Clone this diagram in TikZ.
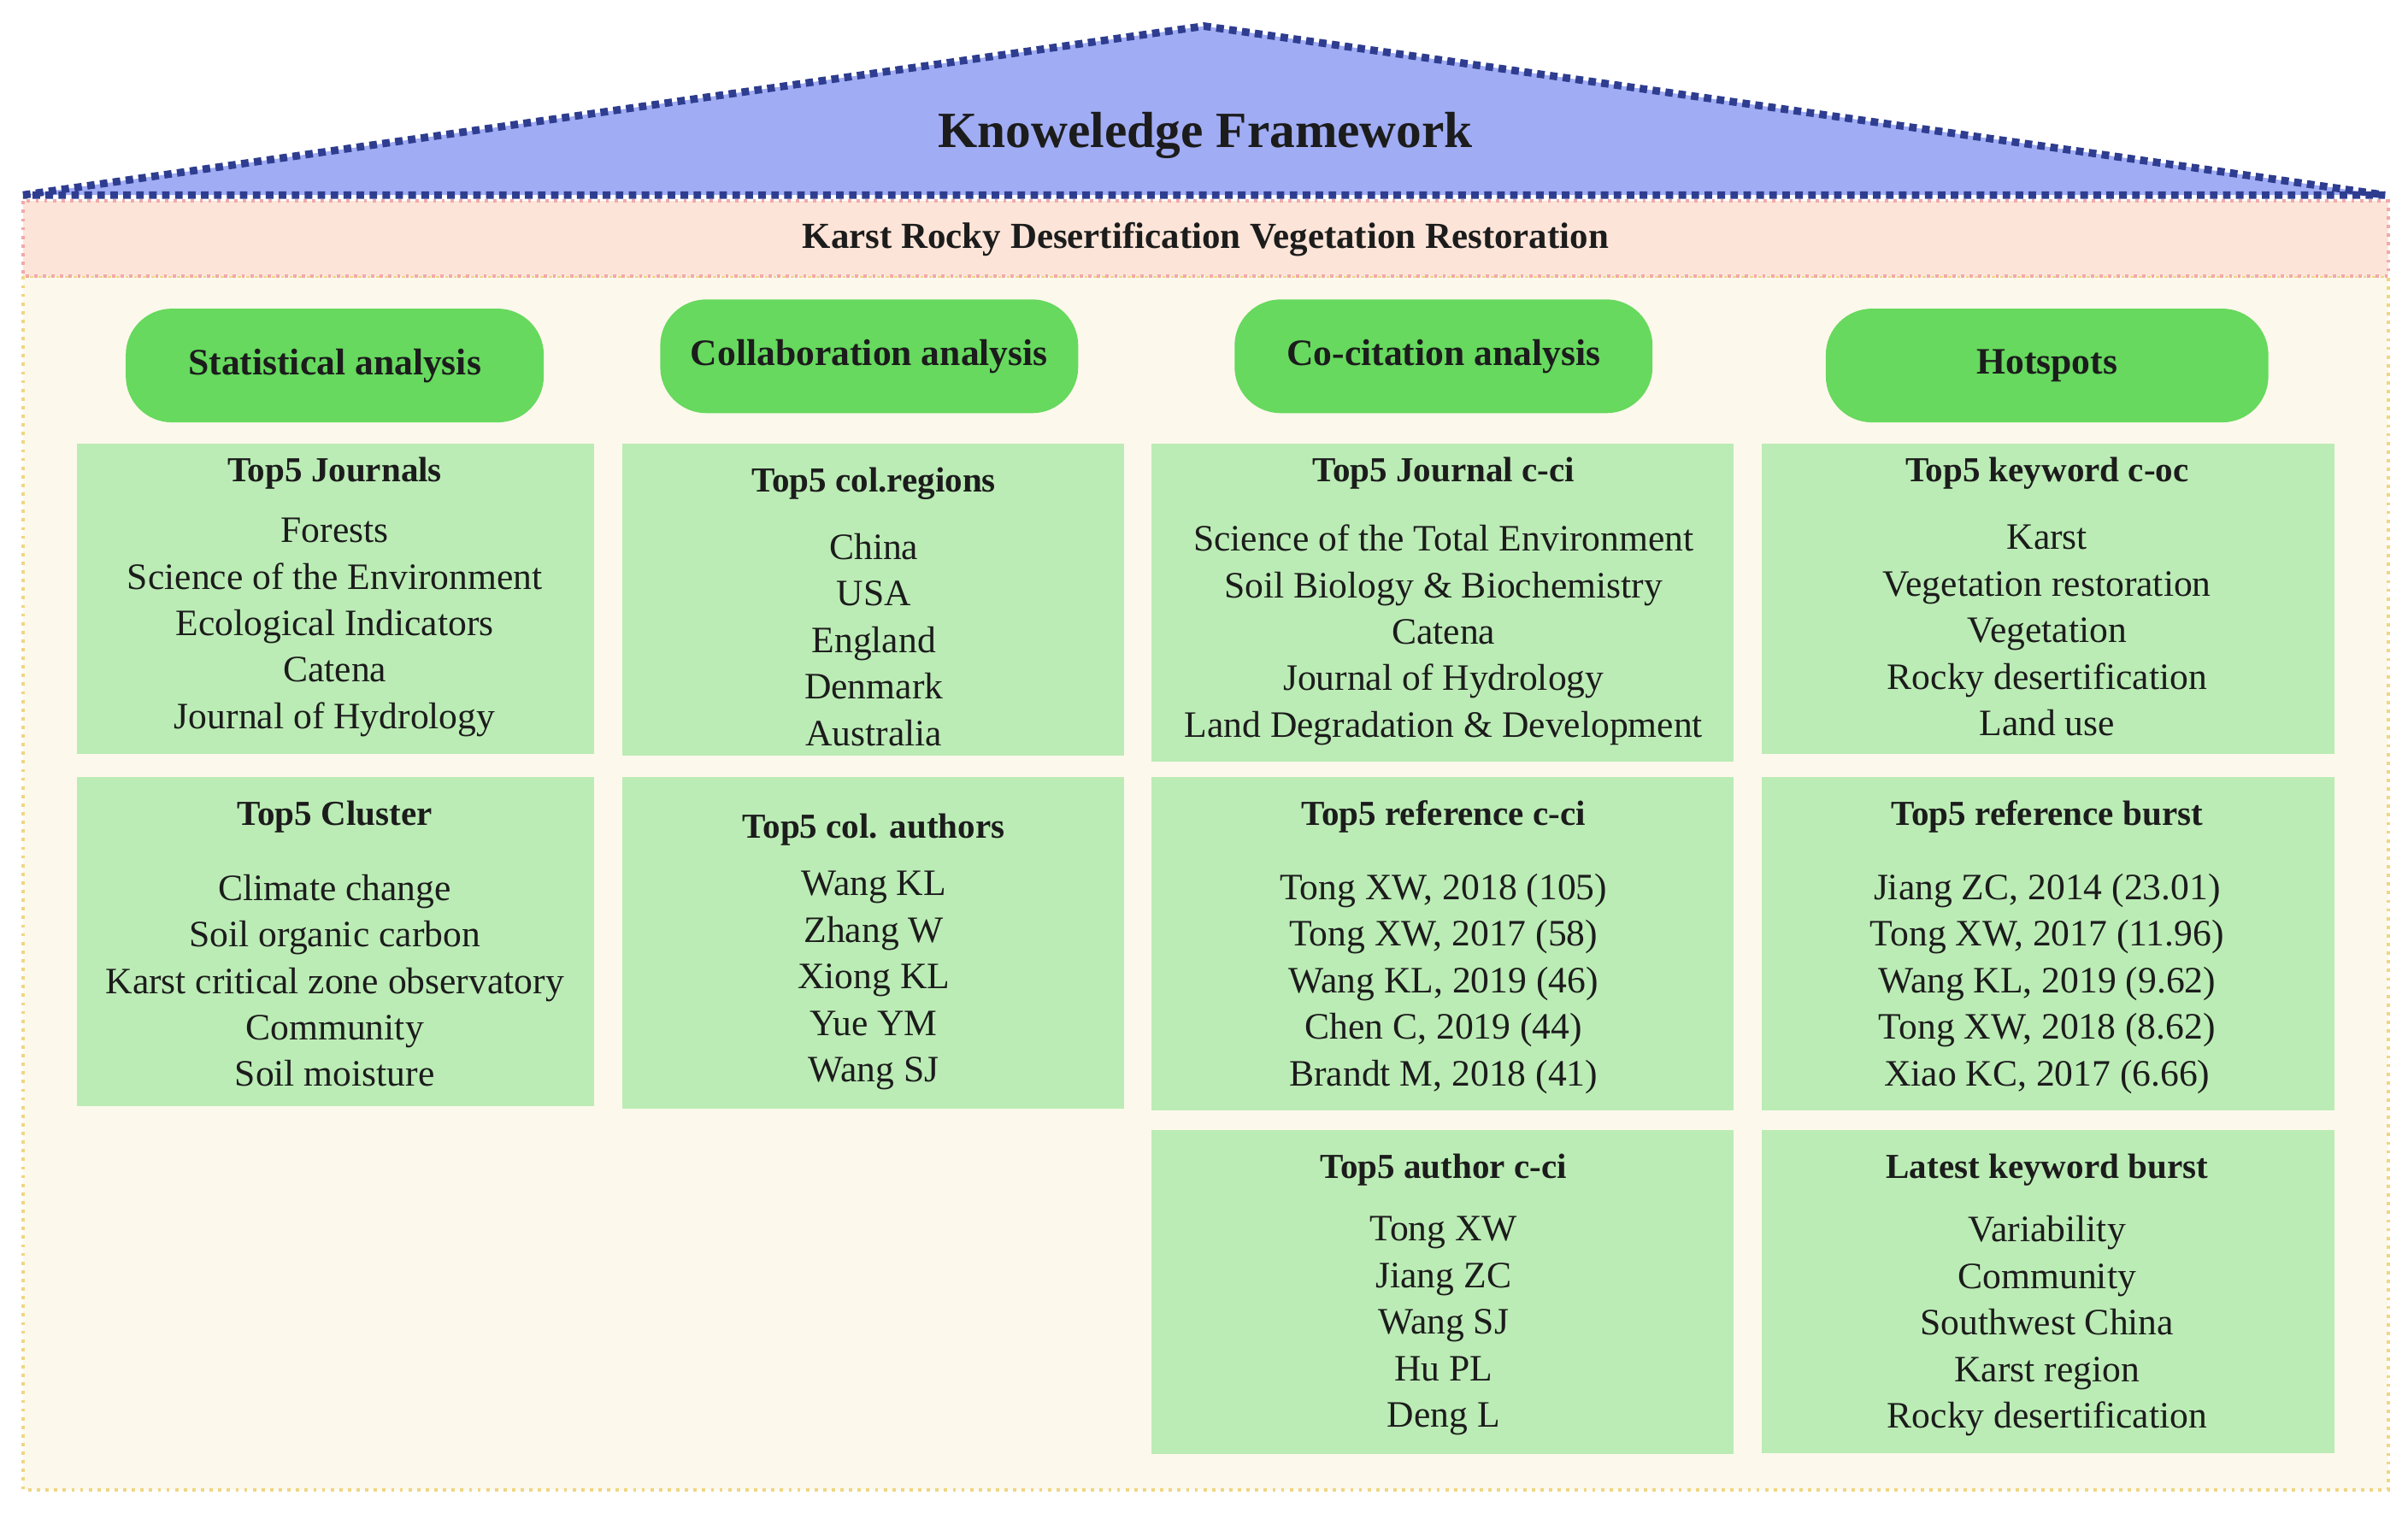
\documentclass[tikz,border=0pt]{standalone}
\usepackage{fontspec}
\setmainfont{Liberation Serif}
\begin{document}
\begin{tikzpicture}[x=0.01cm,y=-0.01cm,
  roof/.style={fill=roofc,draw=roofb,densely dotted,line width=1.4pt},
  band/.style={fill=pinkc,draw=pinkb,densely dotted,line width=0.6pt},
  base/.style={fill=creamc,draw=creamb,densely dotted,line width=0.6pt},
  pill/.style={fill=pillc,draw=none,rounded corners=0.3cm,inner sep=0pt,font=\fontsize{6.9}{8}\selectfont\bfseries,text=txt},
  box/.style={fill=boxc,draw=none},
  hdr/.style={font=\fontsize{6.5}{8}\selectfont\bfseries,text=txt,inner sep=0pt},
  items/.style={font=\fontsize{6.9}{8.62}\selectfont,text=txt,align=center,inner sep=0pt}]
\definecolor{roofc}{HTML}{A0ACF3}
\definecolor{roofb}{HTML}{2E3D8F}
\definecolor{pinkc}{HTML}{FCE5D8}
\definecolor{pinkb}{HTML}{F2A9A9}
\definecolor{creamc}{HTML}{FDF8EC}
\definecolor{creamb}{HTML}{F0D683}
\definecolor{pillc}{HTML}{66D95E}
\definecolor{boxc}{HTML}{BBECB5}
\definecolor{txt}{HTML}{1C1C1C}
\useasboundingbox (0,0) rectangle (1568,985.2);
% roof
\coordinate (rl) at (15,127); \coordinate (rt) at (784,17); \coordinate (rr) at (1553,127);
\draw[roof] (rl) -- (rt) -- (rr) -- cycle;
\node[font=\fontsize{9.4}{11}\selectfont\bfseries,text=txt] (title) at (785,88) {Knoweledge Framework};
% band
\draw[base] (15,180) rectangle (1555,970);
\draw[band] (15,131) rectangle (1555,180);
\node[font=\fontsize{6.8}{8}\selectfont\bfseries,text=txt] (kr) at (785,156) {Karst Rocky Desertification Vegetation Restoration};
% pills
\node[pill,minimum width=2.72cm,minimum height=0.74cm] (p1) at (218,238) {Statistical analysis};
\node[pill,minimum width=2.72cm,minimum height=0.74cm] (p2) at (566,232) {Collaboration analysis};
\node[pill,minimum width=2.72cm,minimum height=0.74cm] (p3) at (940,232) {Co-citation analysis};
\node[pill,minimum width=2.88cm,minimum height=0.74cm] (p4) at (1333,238) {Hotspots};
% boxes
\fill[box] (50,289) rectangle (387,491);
\fill[box] (405,289) rectangle (732,492);
\fill[box] (750,289) rectangle (1129,496);
\fill[box] (1147,289) rectangle (1520,491);
\fill[box] (50,506) rectangle (387,720);
\fill[box] (405,506) rectangle (732,722);
\fill[box] (750,506) rectangle (1129,723);
\fill[box] (1147,506) rectangle (1520,723);
\fill[box] (750,736) rectangle (1129,947);
\fill[box] (1147,736) rectangle (1520,946);
% row 1
\node[hdr] (h11) at (218,308) {Top5 Journals};
\node[items] (i11) at (218,408.5) {Forests\\Science of the Environment\\Ecological Indicators\\Catena\\Journal of Hydrology};
\node[hdr] (h12) at (569,315) {Top5 col.regions};
\node[items] (i12) at (569,416.5) {China\\USA\\England\\Denmark\\Australia};
\node[hdr] (h13) at (940,308) {Top5 Journal c-ci};
\node[items] (i13) at (940,413.5) {Science of the Total Environment\\Soil Biology \& Biochemistry\\Catena\\Journal of Hydrology\\Land Degradation \& Development};
\node[hdr] (h14) at (1333,308) {Top5 keyword c-oc};
\node[items] (i14) at (1333,410.5) {Karst\\Vegetation restoration\\Vegetation\\Rocky desertification\\Land use};
% row 2
\node[hdr] (h21) at (218,532) {Top5 Cluster};
\node[items] (i21) at (218,638.5) {Climate change\\Soil organic carbon\\Karst critical zone observatory\\Community\\Soil moisture};
\node[hdr] (h22) at (569,540) {Top5 col. authors};
\node[items] (i22) at (569,638.5) {Wang KL\\Zhang W\\Xiong KL\\Yue YM\\Wang SJ};
\node[hdr] (h23) at (940,532) {Top5 reference c-ci};
\node[items] (i23) at (940,640.5) {Tong XW, 2018 (105)\\Tong XW, 2017 (58)\\Wang KL, 2019 (46)\\Chen C, 2019 (44)\\Brandt M, 2018 (41)};
\node[hdr] (h24) at (1333,532) {Top5 reference burst};
\node[items] (i24) at (1333,640.5) {Jiang ZC, 2014 (23.01)\\Tong XW, 2017 (11.96)\\Wang KL, 2019 (9.62)\\Tong XW, 2018 (8.62)\\Xiao KC, 2017 (6.66)};
% row 3
\node[hdr] (h33) at (940,762) {Top5 author c-ci};
\node[items] (i33) at (940,863.5) {Tong XW\\Jiang ZC\\Wang SJ\\Hu PL\\Deng L};
\node[hdr] (h34) at (1333,762) {Latest keyword burst};
\node[items] (i34) at (1333,863.5) {Variability\\Community\\Southwest China\\Karst region\\Rocky desertification};
\end{tikzpicture}
\end{document}
